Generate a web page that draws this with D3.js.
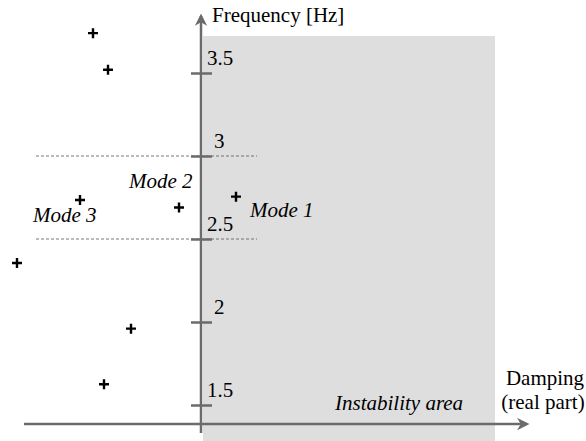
<!DOCTYPE html>
<html lang="en">
<head>
    <meta charset="UTF-8">
    <title>Modes</title>
    <script src="https://d3js.org/d3.v7.js"></script>
    <style>
        body { margin: 0; background: #fff; }
        text { font-family: "Liberation Serif", "Times New Roman", serif; fill: #000; }
    </style>
</head>
<body>
<svg></svg>
<script>
    {
        // damping (arbitrary units, 0 = stability limit) and frequency of each pole
        let damping = [-1.08, -0.93, -1.21, -0.22, 0.35, -1.84, -0.70, -0.97];
        let frequency = [3.74, 3.52, 2.735, 2.69, 2.755, 2.355, 1.96, 1.625];
        let freqTicks = [1.5, 2, 2.5, 3, 3.5];
        let modeBands = [2.5, 3];
        let modeLabels = [
            {name: "Mode 1", d: 0.49, f: 2.63},
            {name: "Mode 2", d: -0.72, f: 2.81},
            {name: "Mode 3", d: -1.68, f: 2.60}
        ];

        let width = 586;
        let height = 441;
        let fontSize = "21px";

        let svg = d3.select("svg")
            .attr("width", width)
            .attr("height", height);

        let x = d3.scaleLinear().domain([0, 1]).range([201, 301]);
        let y = d3.scaleLinear().domain([1.5, 3.5]).range([405, 73]);

        let axisColor = "#6b6b6b";
        let xAxisY = y(1.385);

        // instability area
        svg.append("rect")
            .attr("x", x(0) + 2)
            .attr("y", 36)
            .attr("width", 495 - x(0) - 2)
            .attr("height", height - 36)
            .style("fill", "#dedede");

        // mode band dashed lines
        svg.selectAll(".band").data(modeBands)
            .enter()
            .append("line")
            .attr("x1", 36)
            .attr("x2", 257)
            .attr("y1", d => y(d))
            .attr("y2", d => y(d))
            .style("stroke", "#555")
            .style("stroke-width", 0.8)
            .style("stroke-dasharray", "3,2");

        // arrow heads
        let defs = svg.append("defs");
        defs.append("marker")
            .attr("id", "arrow")
            .attr("viewBox", "0 0 10 10")
            .attr("refX", 8)
            .attr("refY", 5)
            .attr("markerWidth", 5)
            .attr("markerHeight", 5)
            .attr("orient", "auto")
            .append("path")
            .attr("d", "M0,0 L10,5 L0,10 L3,5 Z")
            .style("fill", axisColor);

        // horizontal axis
        svg.append("line")
            .attr("x1", 24)
            .attr("x2", 527)
            .attr("y1", xAxisY)
            .attr("y2", xAxisY)
            .style("stroke", axisColor)
            .style("stroke-width", 2.5)
            .attr("marker-end", "url(#arrow)");

        // vertical axis
        svg.append("line")
            .attr("x1", x(0))
            .attr("x2", x(0))
            .attr("y1", 433)
            .attr("y2", 16)
            .style("stroke", axisColor)
            .style("stroke-width", 2.5)
            .attr("marker-end", "url(#arrow)");

        let yAxis = d3.axisRight(y)
            .tickValues(freqTicks)
            .tickFormat(d3.format("~g"))
            .tickSize(11);

        let gAxis = svg.append("g")
            .attr("transform", "translate(" + x(0) + ",0)")
            .call(yAxis);
        gAxis.select(".domain").remove();
        gAxis.selectAll(".tick line")
            .attr("x1", -10)
            .style("stroke", axisColor)
            .style("stroke-width", 2.5);
        gAxis.selectAll(".tick text")
            .attr("x", d => d % 1 === 0 ? 13 : 6)
            .attr("dy", "-0.42em")
            .style("font-family", "'Liberation Serif', serif")
            .style("font-size", fontSize)
            .style("fill", "#000");

        // poles
        svg.selectAll(".pole").data(damping)
            .enter()
            .append("path")
            .attr("transform", (d, i) => "translate(" + x(d) + "," + y(frequency[i]) + ")")
            .attr("d", "M-5,0 H5 M0,-5 V5")
            .style("stroke", "#000")
            .style("stroke-width", 2.4);

        // mode labels
        svg.selectAll(".mode").data(modeLabels)
            .enter()
            .append("text")
            .attr("x", d => x(d.d))
            .attr("y", d => y(d.f))
            .style("font-style", "italic")
            .style("font-size", fontSize)
            .text(d => d.name);

        svg.append("text")
            .attr("x", 335)
            .attr("y", 410)
            .style("font-style", "italic")
            .style("font-size", fontSize)
            .text("Instability area");

        svg.append("text")
            .attr("x", 212)
            .attr("y", 22)
            .style("font-size", fontSize)
            .text("Frequency [Hz]");

        svg.append("text")
            .attr("x", 545)
            .attr("y", 385)
            .attr("text-anchor", "middle")
            .style("font-size", fontSize)
            .text("Damping");
        svg.append("text")
            .attr("x", 543)
            .attr("y", 409)
            .attr("text-anchor", "middle")
            .style("font-size", fontSize)
            .text("(real part)");
    }
</script>
</body>
</html>
